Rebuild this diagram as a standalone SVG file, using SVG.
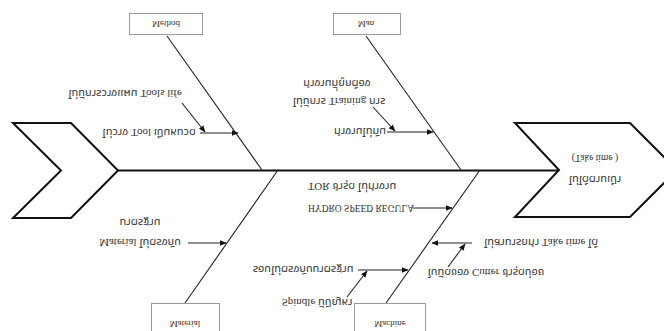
<svg xmlns="http://www.w3.org/2000/svg" width="664" height="331" viewBox="0 0 664 331">
  <defs>
    <marker id="arr" viewBox="0 0 10 10" refX="9" refY="5" markerWidth="7" markerHeight="7" markerUnits="userSpaceOnUse" orient="auto">
      <path d="M0,1 L10,5 L0,9 z" fill="#111"/>
    </marker>
    <style>
      .chev { fill: #fff; stroke: #111; stroke-width: 2; }
      .spine { stroke: #111; stroke-width: 2; fill: none; }
      .bone { stroke: #222; stroke-width: 1.1; fill: none; }
      .sub { stroke: #222; stroke-width: 1.1; fill: none; marker-end: url(#arr); }
      .box { fill: #fff; stroke: #9a9a9a; stroke-width: 1; }
      text { font-family: "Liberation Serif", "Noto Sans Thai", "Noto Sans", serif; font-size: 9.5px; fill: #333; dominant-baseline: central; text-anchor: middle; }
      .th { font-size: 11px; }
      .lbl { font-size: 9px; }
    </style>
  </defs>

  <rect width="664" height="331" fill="#fff"/>

  <!-- tail chevron -->
  <g id="tail">
    <polygon class="chev" points="13,123 71,123 118,170.5 71,218 13,218 61,170.5"/>
  </g>

  <!-- head chevron -->
  <g id="head">
    <polygon class="chev" points="515,123 630,123 677,170 630,217 515,217 559,170"/>
    <text transform="translate(595,158) scale(1,-1)">(Take time )</text>
    <text class="th" transform="translate(595,180) scale(1,-1)">ไม่ได้ตามเป้า</text>
  </g>

  <!-- spine and bones -->
  <g id="connectors">
    <line class="spine" x1="118" y1="170.5" x2="559" y2="170.5"/>
    <line class="bone" x1="167" y1="36" x2="262" y2="170"/>
    <line class="bone" x1="366" y1="36" x2="461" y2="170"/>
    <line class="bone" x1="185" y1="303" x2="278" y2="170"/>
    <line class="bone" x1="386" y1="303" x2="480" y2="170"/>

    <!-- Method causes -->
    <line class="sub" x1="200" y1="133" x2="238" y2="133"/>
    <line class="sub" x1="182" y1="103" x2="205" y2="132"/>
    <!-- Man causes -->
    <line class="sub" x1="387" y1="132" x2="433" y2="132"/>
    <line class="sub" x1="373" y1="107" x2="395" y2="131"/>
    <!-- Material causes -->
    <line class="sub" x1="188" y1="243" x2="226" y2="243"/>
    <!-- Machine causes -->
    <line class="sub" x1="413" y1="208" x2="452" y2="208"/>
    <line class="sub" x1="472" y1="243" x2="432" y2="243"/>
    <line class="sub" x1="448" y1="267" x2="465" y2="244"/>
    <line class="sub" x1="358" y1="270" x2="408" y2="270"/>
    <line class="sub" x1="347" y1="297" x2="367" y2="271"/>
  </g>

  <g id="method">
    <rect class="box" x="129.5" y="13.5" width="73" height="21"/>
    <text class="lbl" transform="translate(166,24) scale(1,-1)">Method</text>
    <text class="th" transform="translate(125,94) scale(1,-1)">ไม่มีการวางแผน Tools life</text>
    <text class="th" transform="translate(149,133) scale(1,-1)">ไม่วาง Tool เป็นหมวด</text>
  </g>

  <g id="man">
    <rect class="box" x="333.5" y="13.5" width="67" height="21"/>
    <text class="lbl" transform="translate(366,24) scale(1,-1)">Man</text>
    <text class="th" transform="translate(337,84) scale(1,-1)">ทำงานที่ถูกต้อง</text>
    <text class="th" transform="translate(339,102) scale(1,-1)">ไม่มีการ Training การ</text>
    <text class="th" transform="translate(360,132) scale(1,-1)">ทำงานไม่ทัน</text>
  </g>

  <g id="material">
    <rect class="box" x="151.5" y="303.5" width="68" height="30"/>
    <text class="lbl" transform="translate(185,324) scale(1,-1)">Material</text>
    <text class="th" transform="translate(140,223) scale(1,-1)">มาตรฐาน</text>
    <text class="th" transform="translate(140,243) scale(1,-1)">Material ไม่ตรงกับ</text>
  </g>

  <g id="machine">
    <rect class="box" x="354.5" y="303.5" width="71" height="30"/>
    <text class="lbl" transform="translate(390,324) scale(1,-1)">Machine</text>
    <text class="th" transform="translate(352,187) scale(1,-1)">TOR ชำรุด ไม่ทำงาน</text>
    <text transform="translate(361,208) scale(1,-1)">HYDRO SPEED REGULA</text>
    <text class="th" transform="translate(541,243) scale(1,-1)">ไม่สามารถทำ Take time ได้</text>
    <text class="th" transform="translate(486,273) scale(1,-1)">ใบมีดของ Cutter ชำรุดบ่อย</text>
    <text class="th" transform="translate(303,270) scale(1,-1)">รอบไม่ตรงกับมาตรฐาน</text>
    <text class="th" transform="translate(317,303) scale(1,-1)">Spindle มีปัญหา</text>
  </g>
</svg>
